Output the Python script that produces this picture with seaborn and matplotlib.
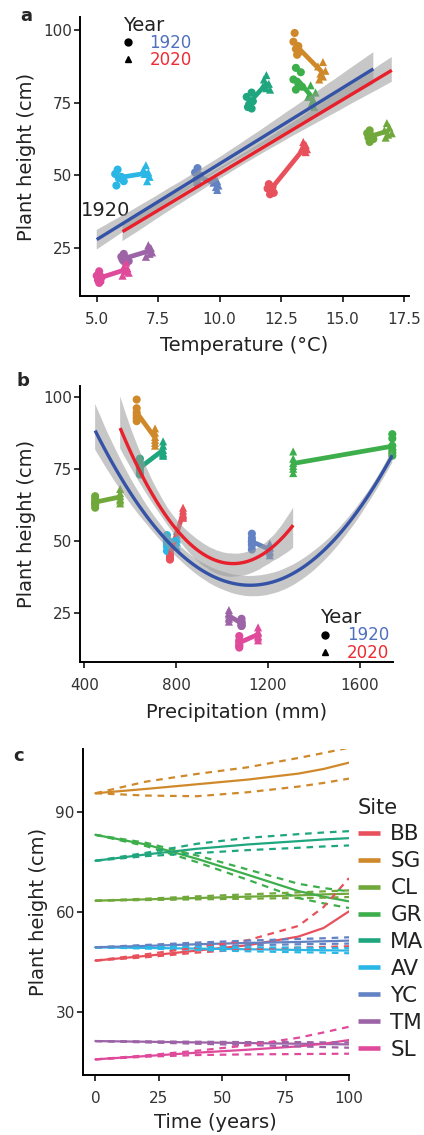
import matplotlib
matplotlib.use("Agg")
import matplotlib.pyplot as plt
import pandas as pd
import seaborn as sns
from matplotlib.lines import Line2D

# ---------------- data ----------------
sites = ["BB", "SG", "CL", "GR", "MA", "AV", "YC", "TM", "SL"]
site_colors = ["#E8515C", "#D0892A", "#70A83B", "#3DAE4C", "#1FA67E",
               "#2AB7E6", "#6282C4", "#9C63A6", "#DF4A9B"]
years = ["1920", "2020"]
year_line_colors = ["#3553A6", "#E8202C"]
year_text_colors = ["#5070BE", "#EE2A33"]

# individual plant heights (cm), per site, in site order
height_1920 = [
    [47, 46, 45.5, 45, 44, 43.5],
    [99, 96, 94.5, 93.5, 92.5, 91.5],
    [65.5, 64.5, 63.5, 63, 62.5, 61.5],
    [87, 85.5, 83, 81.5, 80.5, 79.5],
    [78.5, 77, 75.5, 74.5, 73.5, 73],
    [52, 50.5, 49.5, 49, 48, 46.5],
    [52.5, 51, 50, 49.5, 48.5, 47],
    [23, 22, 21.5, 21, 20.5, 20.5],
    [17, 15.5, 15, 14, 13.5, 13],
]
height_2020 = [
    [61.5, 60.5, 59.5, 59, 58.5, 58],
    [89, 87.5, 86, 85, 84, 83],
    [68, 66.5, 65.5, 64.5, 64, 63],
    [81, 78.5, 77, 76, 75, 73.5],
    [84.5, 83, 81.5, 80.5, 80, 79.5],
    [53.5, 52, 51, 50.5, 49.5, 48],
    [49, 48, 47.5, 46.5, 46, 45],
    [26, 25, 24.5, 23.5, 23, 22],
    [20, 18.5, 18, 17, 16.5, 15.5],
]
# temperature (°C) for each plant
temp_1920 = [
    [12.0, 12.15, 11.95, 12.1, 12.2, 12.05],
    [13.05, 13.0, 13.2, 13.1, 13.25, 13.15],
    [16.1, 16.0, 16.2, 16.05, 16.25, 16.1],
    [13.1, 13.3, 13.0, 13.2, 13.35, 13.1],
    [11.3, 11.1, 11.35, 11.2, 11.15, 11.3],
    [5.85, 5.75, 6.0, 5.9, 6.1, 5.8],
    [9.1, 9.0, 9.2, 9.15, 9.05, 9.1],
    [6.1, 6.0, 6.2, 6.05, 6.3, 6.1],
    [5.1, 5.0, 5.2, 5.05, 5.15, 5.1],
]
temp_2020 = [
    [13.4, 13.5, 13.35, 13.55, 13.4, 13.5],
    [14.2, 14.0, 14.3, 14.1, 14.2, 14.05],
    [16.8, 16.9, 16.7, 17.0, 16.85, 16.75],
    [13.7, 13.9, 13.6, 13.8, 13.75, 13.85],
    [11.9, 11.8, 12.0, 11.75, 11.9, 12.05],
    [7.0, 6.9, 7.1, 6.95, 7.15, 7.05],
    [9.8, 9.9, 9.75, 9.95, 9.85, 9.9],
    [7.1, 7.2, 7.05, 7.25, 7.15, 7.0],
    [6.2, 6.1, 6.25, 6.15, 6.3, 6.05],
]
# precipitation (mm) per site
precip_1920 = [773, 628, 447, 1742, 642, 760, 1130, 1085, 1075]
precip_2020 = [830, 708, 556, 1310, 743, 803, 1208, 1030, 1157]

# panel c: projected height trajectories
time_years = [0, 20, 40, 60, 80, 90, 100]
traj_mean = {
    "BB": [45.4, 46.8, 48.4, 50.0, 52.6, 55.2, 60.2],
    "SG": [95.7, 97.0, 98.4, 99.8, 101.6, 103.0, 104.9],
    "CL": [63.4, 63.8, 64.2, 64.6, 65.0, 65.3, 65.5],
    "GR": [83.2, 80.3, 76.0, 71.2, 66.3, 64.6, 63.2],
    "MA": [75.4, 77.3, 79.0, 80.3, 81.3, 81.8, 82.2],
    "AV": [49.4, 49.2, 49.0, 48.8, 48.6, 48.5, 48.4],
    "YC": [49.4, 49.8, 50.3, 50.7, 51.0, 51.2, 51.4],
    "TM": [21.2, 21.0, 20.8, 20.6, 20.4, 20.3, 20.2],
    "SL": [15.7, 16.7, 17.7, 18.6, 19.6, 20.4, 21.5],
}
traj_low = {
    "BB": [45.4, 46.4, 47.8, 48.8, 49.3, 49.5, 49.7],
    "SG": [95.7, 95.0, 94.8, 96.0, 97.7, 98.8, 100.1],
    "CL": [63.4, 63.6, 63.8, 64.0, 64.2, 64.3, 64.5],
    "GR": [83.2, 79.8, 75.0, 69.7, 64.2, 62.6, 61.2],
    "MA": [75.4, 76.8, 77.7, 78.6, 79.3, 79.7, 80.0],
    "AV": [49.4, 49.0, 48.6, 48.2, 47.9, 47.8, 47.6],
    "YC": [49.4, 49.6, 49.8, 50.0, 50.3, 50.4, 50.5],
    "TM": [21.2, 20.8, 20.4, 20.0, 19.6, 19.4, 19.2],
    "SL": [15.7, 16.5, 17.0, 17.2, 17.3, 17.35, 17.4],
}
traj_high = {
    "BB": [45.4, 47.3, 49.3, 51.5, 55.8, 61.5, 70.2],
    "SG": [95.7, 99.2, 101.5, 103.5, 106.3, 107.8, 109.4],
    "CL": [63.4, 64.0, 64.7, 65.3, 65.9, 66.2, 66.5],
    "GR": [83.2, 80.8, 77.0, 72.8, 68.5, 67.2, 66.2],
    "MA": [75.4, 77.8, 80.5, 82.3, 83.4, 83.9, 84.3],
    "AV": [49.4, 49.5, 49.5, 49.4, 49.3, 49.2, 49.1],
    "YC": [49.4, 50.1, 50.8, 51.4, 51.9, 52.1, 52.4],
    "TM": [21.2, 21.1, 21.0, 20.9, 20.9, 20.8, 20.8],
    "SL": [15.7, 16.9, 18.3, 19.9, 22.2, 23.8, 25.5],
}

# ---------------- style ----------------
sns.set_theme(style="ticks")
plt.rcParams["font.family"] = ["DejaVu Sans"]
plt.rcParams.update({
    "axes.linewidth": 1.4,
    "xtick.major.width": 1.1, "ytick.major.width": 1.1,
    "xtick.major.size": 4.2, "ytick.major.size": 4.2,
    "xtick.major.pad": 7, "ytick.major.pad": 1.5,
    "xtick.labelsize": 11, "ytick.labelsize": 11,
    "xtick.labelcolor": "#333333", "ytick.labelcolor": "#333333",
    "axes.labelsize": 14, "axes.edgecolor": "black", "axes.labelcolor": "#222222",
    "xtick.color": "black", "ytick.color": "black",
})
palette = dict(zip(sites, site_colors))
markers = {"1920": "o", "2020": "^"}

# ---------------- tables ----------------
rows = []
for i, s in enumerate(sites):
    for yr, temps, heights, prec in (("1920", temp_1920[i], height_1920[i], precip_1920[i]),
                                     ("2020", temp_2020[i], height_2020[i], precip_2020[i])):
        for t, h in zip(temps, heights):
            rows.append(dict(site=s, year=yr, temp=t, height=h, precip=prec))
pts = pd.DataFrame(rows)
means = pts.groupby(["site", "year"], as_index=False, sort=False)[["temp", "height", "precip"]].mean()

traj_rows = []
for s in sites:
    for k, t in enumerate(time_years):
        traj_rows.append(dict(site=s, time=t, mean=traj_mean[s][k],
                              low=traj_low[s][k], high=traj_high[s][k]))
traj = pd.DataFrame(traj_rows)

W, H = 424, 1135
fig = plt.figure(figsize=(W / 100, H / 100), dpi=100)


def px_axes(left, top, right, bottom):
    return fig.add_axes([left / W, 1 - bottom / H, (right - left) / W, (bottom - top) / H])


def add_fit(ax, xcol, order):
    for yr, col in zip(years, year_line_colors):
        sub = pts[pts.year == yr]
        n0 = len(ax.collections)
        sns.regplot(data=sub, x=xcol, y="height", order=order, scatter=False, ci=68,
                    n_boot=1000, seed=3, color=col, ax=ax,
                    line_kws=dict(lw=2.4, zorder=5, solid_capstyle="butt"))
        for c in ax.collections[n0:]:
            c.set_facecolor("#9A9A9A")
            c.set_alpha(0.55)
            c.set_edgecolor("none")
            c.set_zorder(4)


def site_points(ax, xcol):
    sns.scatterplot(data=pts, x=xcol, y="height", hue="site", style="year",
                    markers=markers, palette=palette, hue_order=sites, s=34,
                    linewidth=0, legend=False, ax=ax, zorder=2, clip_on=False)
    sns.lineplot(data=means, x=xcol, y="height", hue="site", palette=palette,
                 hue_order=sites, sort=False, estimator=None, lw=3.4,
                 legend=False, ax=ax, zorder=2, clip_on=False)


def year_legend(ax, anchor):
    handles = [Line2D([], [], marker=markers[y], color="black", linestyle="",
                      markersize=5) for y in years]
    leg = ax.legend(handles, years, title="Year", loc="upper left",
                    bbox_to_anchor=anchor, frameon=False, fontsize=12,
                    title_fontsize=14, handlelength=0.6, handletextpad=1.0,
                    labelspacing=-0.05, borderpad=0, borderaxespad=0,
                    alignment="left")
    for txt, c in zip(leg.get_texts(), year_text_colors):
        txt.set_color(c)
    leg.get_title().set_color("#222222")
    return leg


# ---------------- panel a ----------------
axa = px_axes(80, 17, 409, 296)
site_points(axa, "temp")
add_fit(axa, "temp", 1)
axa.text(4.36, 37.8, "1920", fontsize=14, va="center", ha="left", color="#222222")
axa.set_xlim(4.32, 17.7)
axa.set_ylim(8.5, 104.5)
axa.set_xticks([5, 7.5, 10, 12.5, 15, 17.5])
axa.set_xticklabels(["5.0", "7.5", "10.0", "12.5", "15.0", "17.5"])
axa.set_yticks([25, 50, 75, 100])
axa.set_xlabel("Temperature (°C)", labelpad=7)
axa.set_ylabel("Plant height (cm)", labelpad=5)
year_legend(axa, (0.13, 1.005))
sns.despine(ax=axa)

# ---------------- panel b ----------------
axb = px_axes(80, 386, 393, 662)
site_points(axb, "precip")
add_fit(axb, "precip", 2)
axb.set_xlim(381, 1745)
axb.set_ylim(8, 103.7)
axb.set_xticks([400, 800, 1200, 1600])
axb.set_yticks([25, 50, 75, 100])
axb.set_xlabel("Precipitation (mm)", labelpad=7.3)
axb.set_ylabel("Plant height (cm)", labelpad=5)
year_legend(axb, (0.768, 0.195))
sns.despine(ax=axb)

# ---------------- panel c ----------------
axc = px_axes(82.7, 749, 349, 1075)
sns.lineplot(data=traj, x="time", y="mean", hue="site", palette=palette,
             hue_order=sites, lw=1.6, legend=False, ax=axc)
for col in ["low", "high"]:
    n0 = len(axc.lines)
    sns.lineplot(data=traj, x="time", y=col, hue="site", palette=palette,
                 hue_order=sites, lw=1.6, legend=False, ax=axc)
    for ln in axc.lines[n0:]:
        ln.set_dashes([3.0, 2.6])
axc.set_xlim(-5, 100)
axc.set_ylim(11, 109)
axc.set_xticks([0, 25, 50, 75, 100])
axc.set_yticks([30, 60, 90])
axc.set_xlabel("Time (years)", labelpad=5)
axc.set_ylabel("Plant height (cm)", labelpad=5)
site_handles = [Line2D([], [], color=c, lw=3.3, solid_capstyle="butt") for c in site_colors]
leg = axc.legend(site_handles, sites, title="Site", loc="upper left",
                 bbox_to_anchor=(1.034, 0.851), frameon=False, fontsize=15.5,
                 title_fontsize=15, handlelength=1.0, handletextpad=0.5,
                 labelspacing=0.32, borderpad=0, borderaxespad=0, alignment="left")
leg.get_title().set_color("#222222")
for t in leg.get_texts():
    t.set_color("#222222")
sns.despine(ax=axc)

# panel letters
for lab, x, y in (("a", 20, 16), ("b", 16, 381), ("c", 13, 756)):
    fig.text(x / W, 1 - y / H, lab, fontsize=13, fontweight="bold", va="center", ha="left")

fig.savefig("out.png", dpi=100)
